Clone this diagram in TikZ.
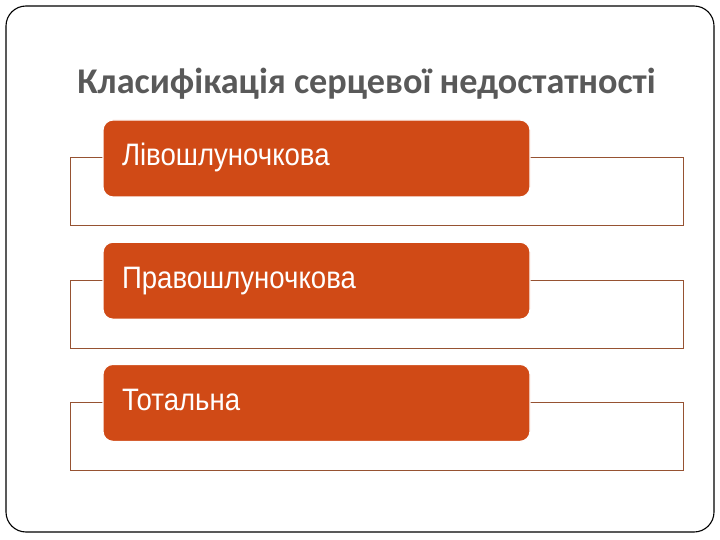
\documentclass[tikz,border=0pt]{standalone}
\usepackage{fontspec}
\setmainfont{Liberation Sans}
\newfontfamily\titlefont{Carlito}
\newfontfamily\narrowfont[FakeStretch=0.89]{Liberation Sans}
\usetikzlibrary{positioning, backgrounds}
\definecolor{rust}{RGB}{208,74,22}
\definecolor{trayline}{RGB}{150,82,50}
\definecolor{titlegray}{RGB}{89,89,89}
\tikzset{
    % frame styles
    slide/.style = {draw=black, line width=1.1pt, rounded corners=20pt},
    tray/.style = {draw=trayline, line width=0.7pt, minimum width=613pt, minimum height=68pt, inner sep=0pt},
    % box style
    kind/.style = {fill=rust, draw=white, line width=1.2pt, rounded corners=10pt,
        minimum width=427pt, minimum height=77pt, text width=389pt, align=left,
        text=white, text height=23pt, text depth=8pt,
        font=\narrowfont\fontsize{31}{34}\selectfont},
    % title style
    heading/.style = {text=titlegray, font=\titlefont\bfseries\fontsize{36.2}{40}\selectfont}
}
\begin{document}
\begin{tikzpicture}[x=1pt, y=-1pt]
        \useasboundingbox (0,0) rectangle (720,540);
        % slide frame and title
        \draw[slide] (6,6) rectangle (714,532);
        \node[heading] (title) at (366.5,84) {Класифікація серцевої недостатності};

        % coloured boxes
        \node[kind] (left) at (316.5,158.5) {Лівошлуночкова};
        \node[kind] (right) [below=44pt of left] {Правошлуночкова};
        \node[kind] (total) [below=44pt of right] {Тотальна};

        % outline trays behind
        \begin{pgfonlayer}{background}
            \foreach \k in {left, right, total}
                \node[tray, anchor=north west] (\k tray) at ([xshift=-32pt, yshift=-38pt]\k.north west) {};
        \end{pgfonlayer}
\end{tikzpicture}
\end{document}
